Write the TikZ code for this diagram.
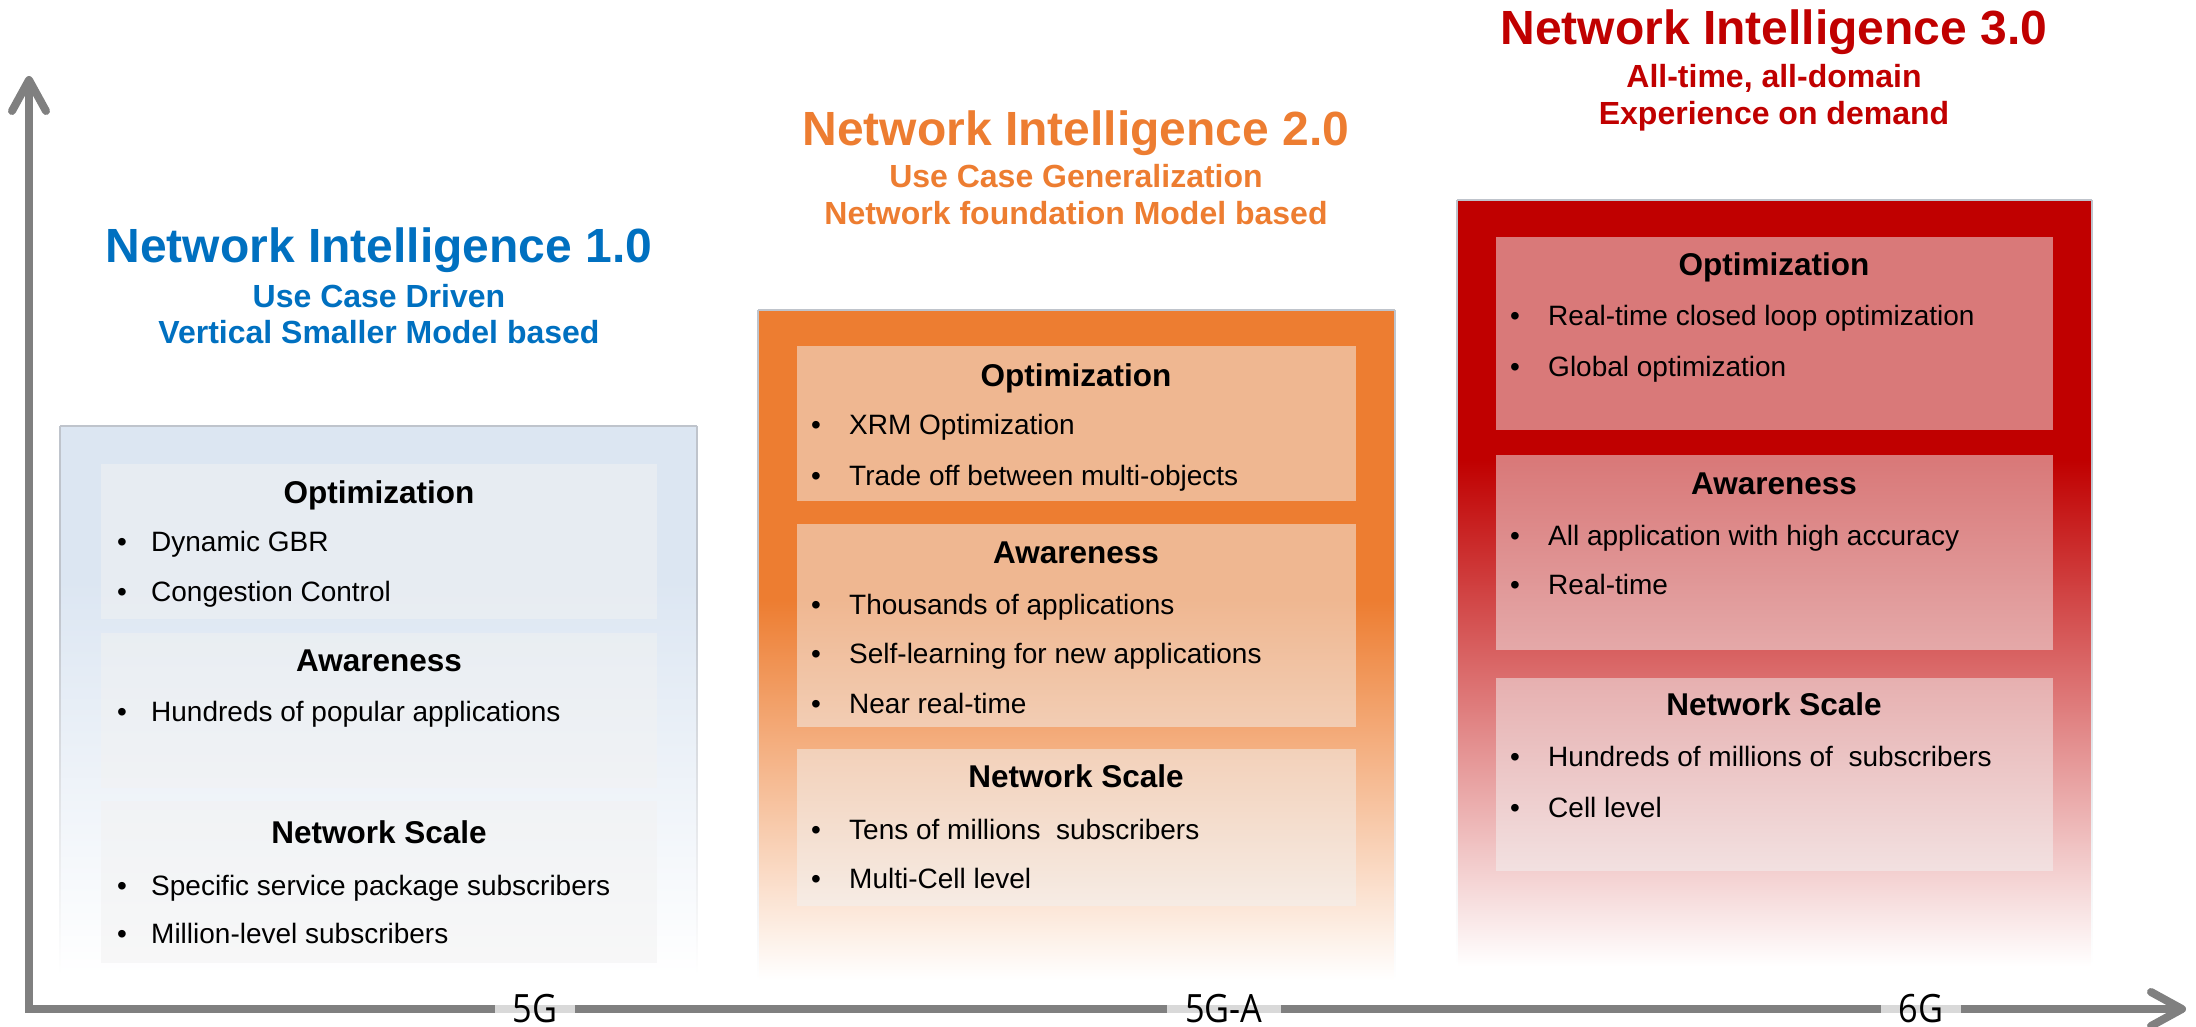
\documentclass[tikz,border=0pt]{standalone}
\usepackage{fontspec}
\usepackage{graphicx}
\setmainfont{Liberation Sans}
\newfontfamily\axisfont{Open Sans}
\usetikzlibrary{arrows.meta}
\definecolor{niblue}{HTML}{0070C0}
\definecolor{niorange}{HTML}{ED7D31}
\definecolor{nired}{HTML}{C00000}
\definecolor{boxblue}{HTML}{DCE6F2}
\definecolor{axisgray}{HTML}{808080}
\definecolor{panelgray}{HTML}{F2F2F2}
\definecolor{bordergray}{HTML}{BFC4CC}
\tikzset{
 title/.style={anchor=base, inner sep=0pt, font=\fontsize{48}{56}\selectfont\bfseries},
 subtitle/.style={anchor=base, inner sep=0pt, font=\fontsize{32}{38}\selectfont\bfseries},
 head/.style={anchor=base, inner sep=0pt, font=\fontsize{31.5}{38}\selectfont\bfseries},
 item/.style={anchor=base west, inner sep=0pt, font=\fontsize{28}{34}\selectfont},
 bul/.style={anchor=base, inner sep=0pt, font=\fontsize{28}{34}\selectfont},
 panel/.style={fill=panelgray, fill opacity=0.5},
 boxborder/.style={draw=bordergray, line width=1.6pt},
 sideborder/.style={top color=bordergray, bottom color=white},
 axislabel/.style={anchor=base, fill=white, fill opacity=0.7, text opacity=1, inner xsep=18pt, inner ysep=3pt, font=\axisfont\fontsize{39}{46}\selectfont},
 axisline/.style={draw=axisgray, line width=8pt, line join=miter,
   {Straight Barb[length=31pt,width=34pt,round]}-{Straight Barb[length=31pt,width=34pt,round]}},
}
\newcommand{\nibul}[5]{%
  \node[bul] (#1b) at (#2,#4) {•};
  \node[item] (#1) at (#3,#4) {#5};}
% box frame: x1, top, x2, bottom, solid-end
\newcommand{\niframe}[5]{%
  \draw[boxborder] (#1,#2) -- (#3,#2);
  \fill[bordergray] (#1-0.8,#2) rectangle (#1+0.8,#5);
  \fill[bordergray] (#3-0.8,#2) rectangle (#3+0.8,#5);
  \shade[sideborder] (#1-0.8,#5) rectangle (#1+0.8,#4);
  \shade[sideborder] (#3-0.8,#5) rectangle (#3+0.8,#4);}
\newcommand{\axtext}[1]{\scalebox{0.88}[1]{#1}}
\begin{document}
\begin{tikzpicture}[x=1pt,y=-1pt]
\useasboundingbox (0,0) rectangle (2196,1027);

% ---------- Box 1 ----------
\fill[boxblue] (60,426) rectangle (697,581);
\shade[top color=boxblue, bottom color=white] (60,580) rectangle (697,975);
\niframe{60}{426}{697}{975}{600}
\fill[panel] (101,464) rectangle (657,619);
\fill[panel] (101,633) rectangle (657,788);
\fill[panel] (101,801) rectangle (657,963);

\node[title, niblue] (t1) at (379,262) {Network Intelligence 1.0};
\node[subtitle, niblue] (t1a) at (379,307) {Use Case Driven};
\node[subtitle, niblue] (t1b) at (379,343) {Vertical Smaller Model based};

\node[head] (h1o) at (379,503) {Optimization};
\nibul{a1}{122}{151}{551}{Dynamic GBR}
\nibul{a2}{122}{151}{601}{Congestion Control}
\node[head] (h1a) at (379,671) {Awareness};
\nibul{a3}{122}{151}{721}{Hundreds of popular applications}
\node[head] (h1n) at (379,843) {Network Scale};
\nibul{a4}{122}{151}{895}{Specific service package subscribers}
\nibul{a5}{122}{151}{943}{Million-level subscribers}

% ---------- Box 2 ----------
\fill[niorange] (758,310) rectangle (1395,601);
\shade[top color=niorange, bottom color=white] (758,600) rectangle (1395,980);
\niframe{758}{310}{1395}{980}{600}
\fill[panel] (797,346) rectangle (1356,501);
\fill[panel] (797,524) rectangle (1356,727);
\fill[panel] (797,749) rectangle (1356,906);

\node[title, niorange] (t2) at (1076,146) {Network Intelligence 2.0};
\node[subtitle, niorange] (t2a) at (1076,188) {Use Case Generalization};
\node[subtitle, niorange] (t2b) at (1076,225) {Network foundation Model based};

\node[head] (h2o) at (1076,386) {Optimization};
\nibul{b1}{816}{849}{434}{XRM Optimization}
\nibul{b2}{816}{849}{485}{Trade off between multi-objects}
\node[head] (h2a) at (1076,563) {Awareness};
\nibul{b3}{816}{849}{614}{Thousands of applications}
\nibul{b4}{816}{849}{663}{Self-learning for new applications}
\nibul{b5}{816}{849}{713}{Near real-time}
\node[head] (h2n) at (1076,787) {Network Scale};
\nibul{b6}{816}{849}{839}{Tens of millions~ subscribers}
\nibul{b7}{816}{849}{888}{Multi-Cell level}

% ---------- Box 3 ----------
\fill[nired] (1457,200) rectangle (2092,461);
\shade[top color=nired, bottom color=white] (1457,460) rectangle (2092,966);
\niframe{1457}{200}{2092}{966}{460}
\fill[panel] (1496,237) rectangle (2053,430);
\fill[panel] (1496,455) rectangle (2053,650);
\fill[panel] (1496,678) rectangle (2053,871);

\node[title, nired] (t3) at (1774,45) {Network Intelligence 3.0};
\node[subtitle, nired] (t3a) at (1774,88) {All-time, all-domain};
\node[subtitle, nired] (t3b) at (1774,125) {Experience on demand};

\node[head] (h3o) at (1774,276) {Optimization};
\nibul{c1}{1515}{1548}{325}{Real-time closed loop optimization}
\nibul{c2}{1515}{1548}{376}{Global optimization}
\node[head] (h3a) at (1774,494) {Awareness};
\nibul{c3}{1515}{1548}{545}{All application with high accuracy}
\nibul{c4}{1515}{1548}{594}{Real-time}
\node[head] (h3n) at (1774,715) {Network Scale};
\nibul{c5}{1515}{1548}{766}{Hundreds of millions of~ subscribers}
\nibul{c6}{1515}{1548}{817}{Cell level}

% ---------- Axes ----------
\coordinate (ytip) at (29,76);
\coordinate (origin) at (29,1009);
\coordinate (xtip) at (2186,1009);
\draw[axisline] (ytip) -- (origin) -- (xtip);

\node[axislabel] (g5) at (535,1022) {\axtext{5G}};
\node[axislabel] (g5a) at (1224,1022) {\axtext{5G-A}};
\node[axislabel] (g6) at (1921,1022) {\axtext{6G}};
\end{tikzpicture}
\end{document}
